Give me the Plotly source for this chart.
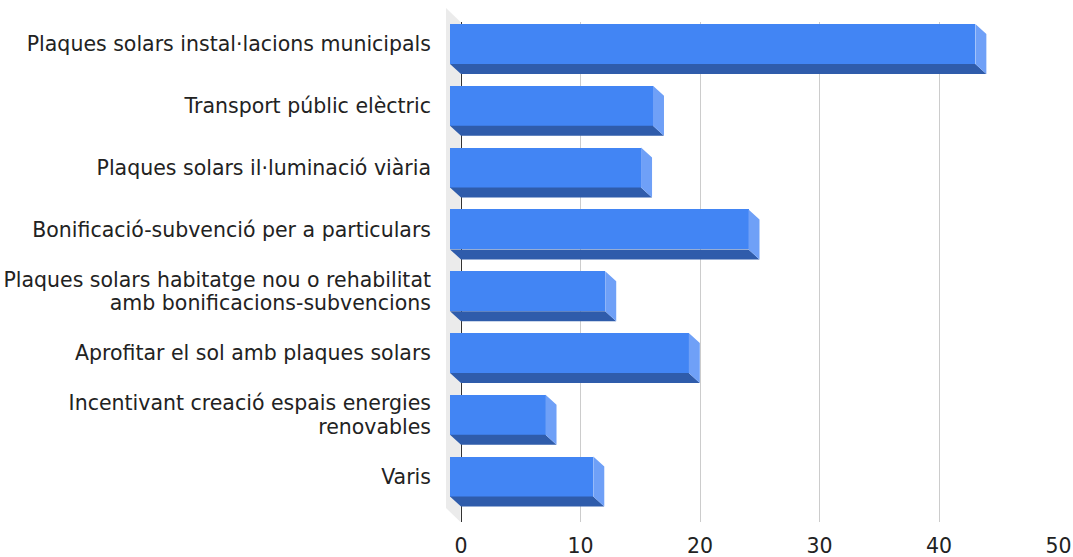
import plotly.graph_objects as go

# ---- data -------------------------------------------------------------
categories = [
    "Plaques solars instal·lacions municipals",
    "Transport públic elèctric",
    "Plaques solars il·luminació viària",
    "Bonificació-subvenció per a particulars",
    "Plaques solars habitatge nou o rehabilitat<br>amb bonificacions-subvencions",
    "Aprofitar el sol amb plaques solars",
    "Incentivant creació espais energies<br>renovables",
    "Varis",
]
values = [44, 17, 16, 25, 13, 20, 8, 12]
x_ticks = [0, 10, 20, 30, 40, 50]

# ---- geometry of the pseudo-3D box (pixels) ----------------------------
W, H = 1073, 557
BACK_X0, BACK_X50 = 461, 1058        # value 0 / 50 on the back wall
PXU = (BACK_X50 - BACK_X0) / 50.0    # pixels per unit
BACK_TOP, BACK_BOTTOM = 22, 522      # vertical extent of the back wall
DEPTH_X, DEPTH_Y = 11, 10            # bar depth offset
ROW0, ROW_STEP = 44, 61.8            # centre of first front face / row pitch
FACE_H = 40                          # front face thickness
WALL_DX, WALL_DY = 15, 14            # depth of the side wall
LINE_PX = 23.5                       # line pitch of wrapped category labels

FRONT_X0 = BACK_X0 - DEPTH_X
F_LEFT, F_RIGHT = 432, 1068          # front subplot extent
F_TOP, F_BOTTOM = 2, 532

FONT = "DejaVu Sans, sans-serif"
FSIZE = 20.5
TXT = "#222222"

BLUE = "#4285F4"
BLUE_DARK = "#2F5CAB"
BLUE_LIGHT = "#6FA0F7"
WALL = "#EBEBEB"


def fx(px):
    """pixel x -> front axis value"""
    return (px - FRONT_X0) / PXU


def fy(px):
    """pixel y -> front axis row value"""
    return (px - ROW0) / ROW_STEP


dx = DEPTH_X / PXU
dy = DEPTH_Y / ROW_STEP
h = FACE_H / ROW_STEP
rows = list(range(len(categories)))

# category labels: wrapped labels get one tick per line, tightly spaced
label_pos, label_txt = [], []
for i, cat in zip(rows, categories):
    lines = cat.split("<br>")
    n = len(lines)
    for k, line in enumerate(lines):
        label_pos.append(i + (k - (n - 1) / 2) * LINE_PX / ROW_STEP)
        label_txt.append(line)

# bottom (dark) and side (light) faces of every bar
bx, by, sx, sy = [], [], [], []
for i, v in zip(rows, values):
    yb = i + h / 2
    yt = i - h / 2
    bx += [0, v, v + dx, dx, 0, None]
    by += [yb, yb, yb + dy, yb + dy, yb, None]
    sx += [v, v + dx, v + dx, v, v, None]
    sy += [yt, yt + dy, yb + dy, yb, yt, None]

fig = go.Figure()

# back wall subplot carries the value grid
fig.add_trace(go.Scatter(x=[None], y=[None], xaxis="x", yaxis="y",
                         showlegend=False, hoverinfo="skip"))

fig.add_trace(go.Bar(
    x=values, y=rows, orientation="h", width=h,
    marker=dict(color=BLUE, line=dict(width=0)),
    xaxis="x2", yaxis="y2", showlegend=False,
))
fig.add_trace(go.Scatter(
    x=bx, y=by, mode="lines", fill="toself", fillcolor=BLUE_DARK,
    line=dict(width=0, color=BLUE_DARK), xaxis="x2", yaxis="y2",
    showlegend=False, hoverinfo="skip",
))
fig.add_trace(go.Scatter(
    x=sx, y=sy, mode="lines", fill="toself", fillcolor=BLUE_LIGHT,
    line=dict(width=0, color=BLUE_LIGHT), xaxis="x2", yaxis="y2",
    showlegend=False, hoverinfo="skip",
))

# grey side wall on the left of the value axis
wb = fx(BACK_X0 - 0.5)
wf = fx(BACK_X0 - WALL_DX)
wt_b, wb_b = fy(BACK_TOP), fy(BACK_BOTTOM)
wt_f, wb_f = fy(BACK_TOP - WALL_DY), fy(BACK_BOTTOM - WALL_DY)
fig.add_shape(
    type="path", xref="x2", yref="y2", layer="below",
    path=f"M{wf},{wt_f} L{wb},{wt_b} L{wb},{wb_b} L{wf},{wb_f} Z",
    fillcolor=WALL, line=dict(width=0),
)

fig.update_layout(
    width=W, height=H,
    margin=dict(l=0, r=0, t=0, b=0),
    paper_bgcolor="white",
    plot_bgcolor="rgba(0,0,0,0)",
    font=dict(family=FONT, size=FSIZE, color=TXT),
    bargap=0,
    xaxis=dict(
        domain=[(BACK_X0 - 6) / W, BACK_X50 / W + 0.0005],
        range=[-6 / PXU, 50],
        tickvals=x_ticks, ticktext=[str(t) for t in x_ticks],
        showgrid=True, gridcolor="#CCCCCC", gridwidth=1,
        zeroline=True, zerolinecolor="#333333", zerolinewidth=1,
        ticks="", showline=False, anchor="y",
        tickfont=dict(family=FONT, size=FSIZE, color=TXT),
        automargin=False, ticklabelstandoff=9,
    ),
    yaxis=dict(
        domain=[(H - BACK_BOTTOM) / H, (H - BACK_TOP) / H],
        range=[0, 1], visible=False, anchor="x", fixedrange=True,
    ),
    xaxis2=dict(
        domain=[F_LEFT / W, F_RIGHT / W],
        range=[fx(F_LEFT), fx(F_RIGHT)],
        visible=False, anchor="y2",
    ),
    yaxis2=dict(
        domain=[(H - F_BOTTOM) / H, (H - F_TOP) / H],
        range=[fy(F_BOTTOM), fy(F_TOP)],
        tickvals=label_pos, ticktext=label_txt,
        showgrid=False, zeroline=False, showline=False, ticks="",
        anchor="x2", automargin=False,
        tickfont=dict(family=FONT, size=FSIZE, color=TXT),
        ticklabelstandoff=0,
    ),
)

fig.write_html("out.html")
